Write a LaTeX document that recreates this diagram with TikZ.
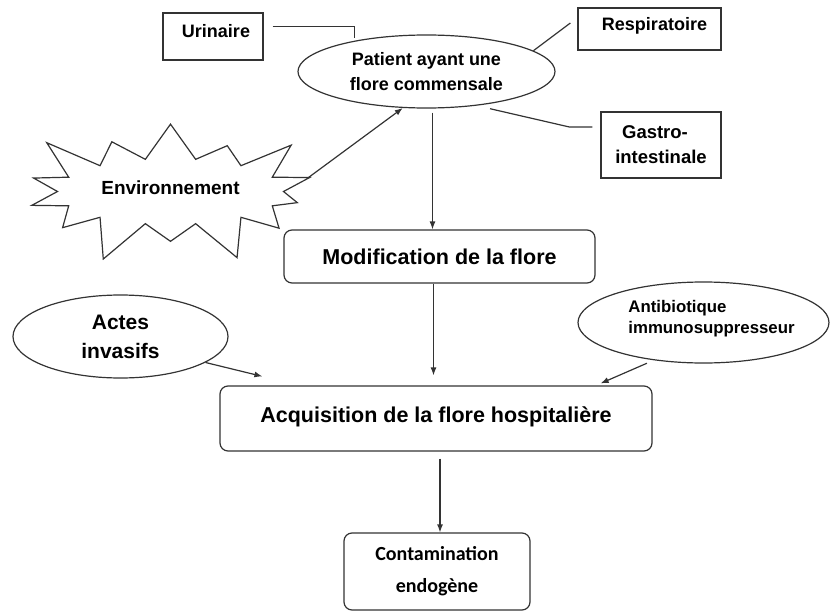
\documentclass[tikz,border=0pt]{standalone}
\usepackage{fontspec}
\setmainfont{Liberation Sans}
\newfontfamily\calibri{Carlito}
\usetikzlibrary{arrows.meta}
\usetikzlibrary{calc,positioning}
\usetikzlibrary{shapes.geometric,shapes.symbols}

\tikzset{
    boite/.style={draw=black!80, line width=1.2pt, inner sep=0pt},
    arrondi/.style={boite, rounded corners=8pt},
    bulle/.style={boite, ellipse},
    trait/.style={draw=black!80, line width=1.2pt},
    fleche/.style={trait, -{Latex[length=8pt,width=6pt]}},
}

\begin{document}
\begin{tikzpicture}[x=1pt, y=-1pt, font=\bfseries]
    \useasboundingbox (0,0) rectangle (831,613);

    % flore commensale et ses sites
    \node[bulle, minimum width=257pt, minimum height=73pt, align=center,
          font=\bfseries\fontsize{18}{25}\selectfont] (pat) at (426.5,71.5)
          {Patient ayant une\\flore commensale};
    \node[boite, minimum width=100pt, minimum height=47pt,
          label={[xshift=3pt,yshift=5pt,font=\bfseries\fontsize{18}{22}\selectfont]center:Urinaire}]
          (uri) at (213,36.5) {};
    \node[boite, minimum width=143pt, minimum height=42pt,
          label={[xshift=5pt,yshift=3pt,font=\bfseries\fontsize{18}{22}\selectfont]center:Respiratoire}]
          (resp) at (649.5,29) {};
    \node[boite, minimum width=120pt, minimum height=66pt, align=center,
          font=\bfseries\fontsize{18.5}{25}\selectfont] (gastro) at (661,145)
          {\hspace*{-12pt}Gastro-\\intestinale};

    % liens vers les sites
    \draw[trait] ([xshift=9pt,yshift=-14pt]uri.north east) -| ([xshift=-72pt,yshift=-4pt]pat.north);
    \draw[trait] (pat.11) -- ([xshift=-7pt,yshift=6pt]resp.west);
    \draw[trait] ([xshift=6pt,yshift=-4pt]pat.-30) -- ([xshift=-31pt,yshift=18pt]gastro.west)
                 -- ([xshift=-8pt,yshift=18pt]gastro.west);

    % environnement
    \node[boite, starburst, starburst points=14, starburst point height=48pt,
          minimum width=322pt, minimum height=162pt,
          font=\bfseries\fontsize{19}{22}\selectfont] (env) at (170.5,191.5)
          {\raisebox{8pt}{Environnement}};
    \draw[fleche] ([xshift=138pt,yshift=14pt]env.center) -- (pat.237);

    % etapes
    \node[arrondi, minimum width=311pt, minimum height=53pt,
          font=\bfseries\fontsize{21.5}{25}\selectfont] (modif) at (439.5,256.5)
          {Modification de la flore};
    \node[arrondi, minimum width=432pt, minimum height=65pt,
          font=\bfseries\fontsize{21.5}{25}\selectfont] (acq) at (436,418.5)
          {\raisebox{7pt}{Acquisition de la flore hospitalière}};
    \node[arrondi, minimum width=186pt, minimum height=77pt, align=center,
          font=\calibri\bfseries\fontsize{20}{32}\selectfont] (cont) at (437,571.5)
          {Contamination\\endogène};

    % facteurs
    \node[bulle, minimum width=215pt, minimum height=83pt, align=center,
          font=\bfseries\fontsize{21}{29}\selectfont] (actes) at (120.5,336.5)
          {Actes\\invasifs};
    \node[bulle, minimum width=251pt, minimum height=81pt,
          label={[xshift=8pt,yshift=4pt,align=left,font=\bfseries\fontsize{16.8}{21}\selectfont]center:Antibiotique\\immunosuppresseur}]
          (antib) at (703.5,322.5) {};

    % fleches
    \draw[fleche] ([xshift=6pt,yshift=-4pt]pat.south) coordinate (p1) -- (p1 |- modif.north);
    \draw[fleche] ([xshift=-6pt]modif.south) coordinate (p2) -- ([yshift=10pt]p2 |- acq.north);
    \draw[fleche] (actes.-17) -- ([xshift=43pt,yshift=9pt]acq.north west);
    \draw[fleche] ([yshift=-4pt]antib.213) -- ([xshift=-52pt,yshift=2pt]acq.north east);
    \draw[fleche] ([xshift=4pt,yshift=-7pt]acq.south) coordinate (p3) -- (p3 |- cont.north);

\end{tikzpicture}
\end{document}
